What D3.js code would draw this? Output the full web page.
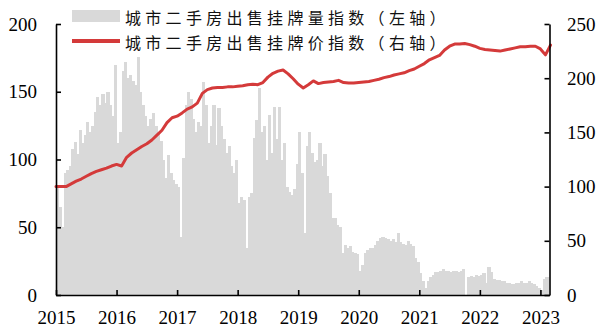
<!DOCTYPE html>
<html>
<head>
<meta charset="utf-8">
<script src="https://cdn.jsdelivr.net/npm/d3@7"></script>
<style>
body { margin: 0; background: #fff; }
svg text { font-family: "Liberation Serif", "Times New Roman", serif; }
</style>
</head>
<body>
<script>
// half-month listing volume index (left axis), from Jan 2015
var volume = [
  80,65,50,90,92,95,108,113,104,122,112,118,128,120,125,135,146,140,148,142,150,140,132,170,
  112,120,165,172,160,162,158,155,176,150,140,132,125,130,134,125,120,114,100,86,103,90,85,82,
  80,43,101,140,150,145,130,120,128,125,157,140,112,125,140,111,138,125,115,105,110,95,90,100,
  68,72,70,35,72,75,116,129,153,120,125,100,133,105,139,115,139,100,112,80,76,74,78,97,
  120,90,46,110,120,105,98,100,112,95,104,88,75,57,57,52,50,31,37,35,36,32,31,
  30,18,22,31,33,35,35,37,40,42,43,42,41,40,41,39,46,39,38,37,40,38,36,27,
  24,16,10,5,10,13,15,17,17,18,19,18,18,17,18,18,17,18,19,0,13,14,13,15,
  14,15,16,9,21,17,12,11,11,10,10,9,9,8,8,9,9,10,9,9,10,9,8,
  7,5,4,12,13
];

// monthly listing price index (right axis), from Jan 2015
var price = [
  100,100,100,102.5,105,107,109.5,112,114,115.5,117,119,
  120.5,119,127,131,134,137,139.5,143,147.5,152,159,163.5,
  165,168,171.5,173.5,177,186,189.5,191,191.5,191.5,192,192,
  192.5,193,194,194.5,194,196,201,204.5,206.5,207.5,204,199.5,
  194.5,191,194,197.5,195,196,196.5,197,198,196,195.5,195.5,
  196,196.5,197,198,199,200.5,201.5,203,204,205,207,208.5,
  211,213.5,217,219,221,226,229.5,231.5,231.5,232,231,229.5,
  227.5,226.5,226,225.5,225,226,227,228,229,229,229.5,229.5,
  227,221.5,230.5
];

var yearTicks = [2015, 2016, 2017, 2018, 2019, 2020, 2021, 2022, 2023];
var leftTicks = [0, 50, 100, 150, 200];
var rightTicks = [0, 50, 100, 150, 200, 250];
var legendLabels = ["城市二手房出售挂牌量指数（左轴）", "城市二手房出售挂牌价指数（右轴）"];

var margin = {top: 24, right: 54.5, bottom: 38, left: 56},
    width = 604 - margin.left - margin.right,
    height = 333 - margin.top - margin.bottom;

var grey = "#d9d9d9",
    red = "#d43a3a";

var container = d3.select("body").append("svg")
    .attr("width", 604)
    .attr("height", 333);

var svg = container.append("g")
    .attr("transform", "translate(" + margin.left + "," + margin.top + ")");

var x = d3.scaleLinear()
    .domain([2015, 2023.15])
    .range([0, width]);

var yL = d3.scaleLinear()
    .domain([0, 200])
    .range([height, 0]);

var yR = d3.scaleLinear()
    .domain([0, 250])
    .range([height, 0]);

// volume bars
svg.append("g")
    .attr("shape-rendering", "crispEdges")
    .selectAll("rect")
    .data(volume)
    .enter()
    .append("rect")
    .attr("x", (d, i) => x(2015 + i / 24))
    .attr("width", (d, i) => x(2015 + (i + 1) / 24) - x(2015 + i / 24) + 0.6)
    .attr("y", d => yL(d))
    .attr("height", d => height - yL(d))
    .attr("fill", grey);

// price line
var line = d3.line()
    .x((d, i) => x(2015 + i / 12))
    .y(d => yR(d));

svg.append("path")
    .datum(price)
    .attr("fill", "none")
    .attr("stroke", red)
    .attr("stroke-width", 3)
    .attr("stroke-linejoin", "round")
    .attr("stroke-linecap", "round")
    .attr("d", line);

// axes
var xAxis = svg.append("g")
    .attr("transform", "translate(0," + height + ")")
    .call(d3.axisBottom(x)
        .tickValues(yearTicks)
        .tickFormat(d3.format("d"))
        .tickSizeInner(-5)
        .tickSizeOuter(0)
        .tickPadding(16));

var leftAxis = svg.append("g")
    .call(d3.axisLeft(yL)
        .tickValues(leftTicks)
        .tickSizeInner(-5)
        .tickSizeOuter(0)
        .tickPadding(19));

var rightAxis = svg.append("g")
    .attr("transform", "translate(" + width + ",0)")
    .call(d3.axisRight(yR)
        .tickValues(rightTicks)
        .tickSizeInner(-5)
        .tickSizeOuter(0)
        .tickPadding(17.5));

[xAxis, leftAxis, rightAxis].forEach(function(g) {
    g.selectAll("path, line").attr("stroke", "#000").attr("stroke-width", 1.6);
    g.selectAll("text")
        .attr("fill", "#000")
        .style("font-size", "19px")
        .style("font-family", "'Liberation Serif', 'Times New Roman', serif");
});

// legend
var legend = container.append("g");

legend.append("rect")
    .attr("x", 72).attr("y", 10)
    .attr("width", 48).attr("height", 12)
    .attr("fill", grey);

legend.append("line")
    .attr("x1", 72).attr("x2", 120)
    .attr("y1", 41).attr("y2", 41)
    .attr("stroke", red)
    .attr("stroke-width", 4);

legend.selectAll("text.lg")
    .data(legendLabels)
    .enter()
    .append("text")
    .attr("class", "lg")
    .attr("x", 125)
    .attr("y", (d, i) => 16.5 + i * 25)
    .attr("dominant-baseline", "central")
    .style("font-family", "'Noto Sans CJK SC', sans-serif")
    .style("font-size", "16px")
    .style("letter-spacing", "4.3px")
    .attr("fill", "#111")
    .text(d => d);
</script>
</body>
</html>
